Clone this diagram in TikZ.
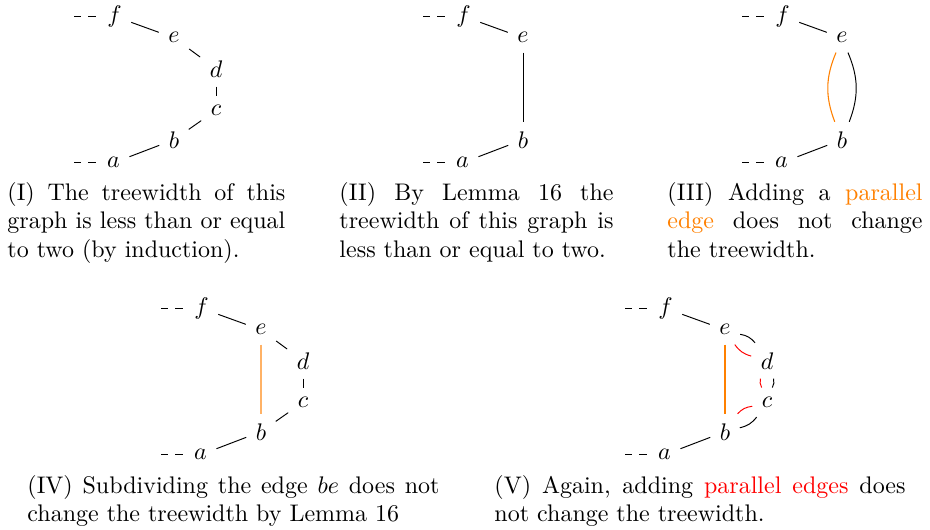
\documentclass[tikz,border=0pt]{standalone}
\usepackage{xcolor}
\hyphenpenalty=10000
\tolerance=10000
\hbadness=10000
\begin{document}
\begin{tikzpicture}[x=0.41667pt,y=0.41667pt,
  v/.style={rectangle, inner sep=3.8pt},
  dsh/.style={dashed},
  lightedge/.style={draw=orange!60, line width=0.8pt},
  orangeedge/.style={draw=orange, line width=0.45pt},
  capnode/.style={anchor=base west, inner sep=0pt, align=justify}]
\useasboundingbox (0,0) rectangle (930,-529);

% ---------- Panel I ----------
\begin{scope}
\node[v] (f1) at (114.5,-16.3) {$f$};
\node[v] (e1) at (174,-37.8) {$e$};
\node[v] (d1) at (216,-68.7) {$d$};
\node[v] (c1) at (216,-110.3) {$c$};
\node[v] (b1) at (174,-139.7) {$b$};
\node[v] (a1) at (113.5,-162.8) {$a$};
\coordinate (fl1) at (74,-16.3);
\coordinate (al1) at (74,-162.8);
\draw[dsh] (fl1) -- (f1);
\draw[dsh] (al1) -- (a1);
\draw (f1) -- (e1);
\draw (e1) -- (d1);
\draw (d1) -- (c1);
\draw (c1) -- (b1);
\draw (b1) -- (a1);
\end{scope}

% ---------- Panel II ----------
\begin{scope}[shift={(349,0)}]
\node[v] (f2) at (114.5,-16.3) {$f$};
\node[v] (e2) at (174,-37.8) {$e$};
\node[v] (b2) at (174,-139.7) {$b$};
\node[v] (a2) at (113.5,-162.8) {$a$};
\coordinate (fl2) at (74,-16.3);
\coordinate (al2) at (74,-162.8);
\draw[dsh] (fl2) -- (f2);
\draw[dsh] (al2) -- (a2);
\draw (f2) -- (e2);
\draw (e2) -- (b2);
\draw (b2) -- (a2);
\end{scope}

% ---------- Panel III ----------
\begin{scope}[shift={(668,0)}]
\node[v] (f3) at (114.5,-16.3) {$f$};
\node[v] (e3) at (174,-37.8) {$e$};
\node[v] (b3) at (174,-139.7) {$b$};
\node[v] (a3) at (113.5,-162.8) {$a$};
\coordinate (fl3) at (74,-16.3);
\coordinate (al3) at (74,-162.8);
\draw[dsh] (fl3) -- (f3);
\draw[dsh] (al3) -- (a3);
\draw (f3) -- (e3);
\draw[orangeedge] (e3) to[bend right=22] (b3);
\draw (e3) to[bend left=22] (b3);
\draw (b3) -- (a3);
\end{scope}

% ---------- Panel IV ----------
\begin{scope}[shift={(87,-292)}]
\node[v] (f4) at (114.5,-16.3) {$f$};
\node[v] (e4) at (174,-37.8) {$e$};
\node[v] (d4) at (216,-68.7) {$d$};
\node[v] (c4) at (216,-110.3) {$c$};
\node[v] (b4) at (174,-139.7) {$b$};
\node[v] (a4) at (113.5,-162.8) {$a$};
\coordinate (fl4) at (74,-16.3);
\coordinate (al4) at (74,-162.8);
\draw[dsh] (fl4) -- (f4);
\draw[dsh] (al4) -- (a4);
\draw (f4) -- (e4);
\draw (e4) -- (d4);
\draw (d4) -- (c4);
\draw (c4) -- (b4);
\draw (b4) -- (a4);
\draw[lightedge] (e4) -- (b4);
\end{scope}

% ---------- Panel V ----------
\begin{scope}[shift={(551,-292)}]
\node[v] (f5) at (114.5,-16.3) {$f$};
\node[v] (e5) at (174,-37.8) {$e$};
\node[v] (d5) at (216,-68.7) {$d$};
\node[v] (c5) at (216,-110.3) {$c$};
\node[v] (b5) at (174,-139.7) {$b$};
\node[v] (a5) at (113.5,-162.8) {$a$};
\coordinate (fl5) at (74,-16.3);
\coordinate (al5) at (74,-162.8);
\draw[dsh] (fl5) -- (f5);
\draw[dsh] (al5) -- (a5);
\draw (f5) -- (e5);
\draw (e5) to[bend left=20] (d5);
\draw[red] (e5) to[bend right=20] (d5);
\draw (d5) to[bend left=20] (c5);
\draw[red] (d5) to[bend right=20] (c5);
\draw (c5) to[bend left=20] (b5);
\draw[red] (c5) to[bend right=20] (b5);
\draw (b5) -- (a5);
\draw[orangeedge] (e5) -- (b5);
\end{scope}

% ---------- Captions ----------
\node[capnode, text width=115.8pt] (capI) at (7,-200)
  {(I) The treewidth of this\linebreak graph is less than or equal\linebreak to two (by induction).};
\node[capnode, text width=114.2pt] (capII) at (339,-200)
  {(II) By Lemma 16 the\linebreak treewidth of this graph is\linebreak less than or equal to two.};
\node[capnode, text width=106.3pt] (capIII) at (667,-200)
  {(III) Adding a \textcolor{orange}{parallel}\linebreak \textcolor{orange}{edge} does not change\linebreak the treewidth.};
\node[capnode, text width=171.7pt] (capIV) at (27,-493)
  {(IV) Subdividing the edge $be$ does not\linebreak change the treewidth by Lemma 16};
\node[capnode, text width=171.3pt] (capV) at (494,-493)
  {(V) Again, adding \textcolor{red}{parallel edges} does\linebreak not change the treewidth.};
\end{tikzpicture}
\end{document}
